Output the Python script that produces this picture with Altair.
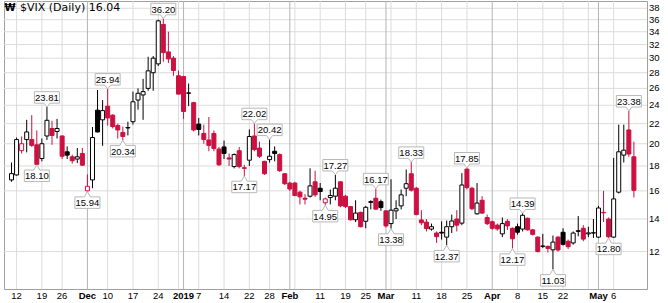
import altair as alt
import pandas as pd

# ---- data ----
dates = ["Nov 9","Nov 12","Nov 13","Nov 14","Nov 15","Nov 16","Nov 19","Nov 20","Nov 21","Nov 23",
         "Nov 26","Nov 27","Nov 28","Nov 29","Nov 30","Dec 3","Dec 4","Dec 6","Dec 7","Dec 10",
         "Dec 11","Dec 12","Dec 13","Dec 14","Dec 17","Dec 18","Dec 19","Dec 20","Dec 21","Dec 24",
         "Dec 26","Dec 27","Dec 28","Dec 31","Jan 2","Jan 3","Jan 4","Jan 7","Jan 8","Jan 9",
         "Jan 10","Jan 11","Jan 14","Jan 15","Jan 16","Jan 17","Jan 18","Jan 22","Jan 23","Jan 24",
         "Jan 25","Jan 28","Jan 29","Jan 30","Jan 31","Feb 1","Feb 4","Feb 5","Feb 6","Feb 7",
         "Feb 8","Feb 11","Feb 12","Feb 13","Feb 14","Feb 15","Feb 19","Feb 20","Feb 21","Feb 22",
         "Feb 25","Feb 26","Feb 27","Feb 28","Mar 1","Mar 4","Mar 5","Mar 6","Mar 7","Mar 8",
         "Mar 11","Mar 12","Mar 13","Mar 14","Mar 15","Mar 18","Mar 19","Mar 20","Mar 21","Mar 22",
         "Mar 25","Mar 26","Mar 27","Mar 28","Mar 29","Apr 1","Apr 2","Apr 3","Apr 4","Apr 5",
         "Apr 8","Apr 9","Apr 10","Apr 11","Apr 12","Apr 15","Apr 16","Apr 17","Apr 18","Apr 22",
         "Apr 23","Apr 24","Apr 25","Apr 26","Apr 29","Apr 30","May 1","May 2","May 3","May 6",
         "May 7","May 8","May 9","May 10"]

opens = [16.85,17.25,19.35,20.4,20.4,19.9,18.65,20.75,21.5,21.2,
         20.75,19.25,18.8,18.6,19.1,16.0,16.85,23.45,22.4,23.9,
         22.9,21.8,21.1,21.55,22.2,24.6,25.2,26.0,28.0,29.2,
         35.2,30.9,30.0,27.6,27.5,25.4,24.3,21.95,21.0,20.36,
         21.0,19.5,19.7,18.7,17.95,19.35,17.85,18.5,20.75,19.6,
         18.4,18.55,19.3,19.0,17.35,16.6,16.6,15.9,15.45,15.6,
         16.7,16.2,15.12,15.5,15.6,16.7,15.6,14.85,13.95,14.45,
         13.85,15.2,15.45,15.2,14.55,13.7,14.55,14.9,16.2,17.35,
         16.2,13.94,13.8,13.35,13.1,13.15,12.85,13.5,14.0,13.73,
         17.73,16.2,14.35,15.3,14.1,13.82,13.6,13.05,13.85,13.4,
         13.5,13.35,14.05,13.3,12.85,12.3,12.3,12.1,12.85,13.15,
         12.6,12.5,13.2,13.4,13.05,13.1,12.85,14.45,14.0,12.85,
         15.9,18.95,21.35,18.8]

highs = [18.3,20.6,20.7,22.4,22.9,21.3,20.5,23.81,22.3,22.5,
         20.8,19.75,19.0,19.6,19.6,17.3,21.65,25.8,24.6,25.94,
         23.0,22.0,21.7,22.2,25.6,26.0,27.2,30.2,30.3,36.0,
         36.20,34.0,30.3,28.3,27.6,26.6,24.4,22.6,21.9,22.7,
         21.3,19.7,20.3,19.1,19.1,19.7,18.1,21.4,22.02,20.2,
         18.45,20.42,19.75,19.1,17.4,16.7,16.7,16.0,15.75,17.8,
         17.6,16.6,15.5,16.1,17.27,16.75,15.7,14.9,15.3,14.5,
         14.9,15.3,16.17,15.35,14.6,16.9,15.3,16.1,17.7,18.33,
         16.3,14.6,14.0,13.7,13.2,13.85,13.9,14.3,14.6,17.4,
         17.85,16.3,16.6,15.6,14.3,13.9,13.7,14.1,14.0,13.45,
         13.7,14.39,14.1,13.35,12.9,13.05,12.35,12.95,12.9,13.4,
         12.7,13.2,14.2,13.6,13.5,14.0,14.9,16.0,14.1,18.7,
         21.9,21.9,23.38,20.2]

lows = [16.7,17.2,19.1,19.2,19.7,18.10,18.4,20.36,19.9,20.5,
        18.6,18.6,18.2,18.25,18.0,15.94,16.2,21.1,19.8,21.8,
        21.5,20.5,20.34,20.8,21.9,23.5,22.4,25.7,25.7,28.9,
        29.5,29.3,27.6,25.3,22.5,23.9,21.2,20.8,20.0,19.3,
        19.3,18.0,18.6,18.0,17.8,17.8,17.17,18.0,19.3,18.7,
        17.25,18.3,18.4,17.5,16.45,16.0,15.6,15.0,15.0,15.5,
        15.55,15.3,14.95,15.0,15.3,14.8,14.75,13.9,13.8,13.45,
        13.4,14.65,14.65,14.55,13.45,13.38,14.0,14.65,15.6,15.95,
        14.25,13.6,13.2,13.25,12.5,12.7,12.37,13.1,13.2,13.6,
        16.1,14.6,14.3,14.35,13.6,13.3,13.25,12.85,13.3,12.17,
        13.0,13.2,13.25,12.95,11.95,12.2,11.95,11.03,12.0,12.35,
        12.15,12.4,12.9,12.6,12.85,12.8,12.8,13.8,12.80,12.8,
        15.8,18.3,18.8,15.5]

closes = [17.36,20.40,20.0,21.15,19.85,18.14,20.0,22.35,20.8,21.5,
          18.85,18.95,18.45,18.8,18.07,16.35,20.6,21.15,23.4,22.6,
          21.7,21.35,20.7,21.6,24.4,25.4,25.6,28.25,30.0,35.8,
          30.8,29.9,28.3,25.3,23.3,25.45,21.35,21.4,20.4,19.85,
          19.55,18.1,19.1,18.6,19.0,17.95,17.8,20.7,19.45,18.85,
          17.35,18.85,19.1,17.6,16.55,16.14,15.65,15.55,15.38,16.38,
          15.7,15.95,15.4,15.65,16.2,14.9,14.85,13.95,14.4,13.5,
          14.8,15.15,14.67,14.78,13.55,14.6,14.7,15.7,16.55,16.05,
          14.3,13.75,13.38,13.5,12.88,13.1,13.5,13.87,13.6,16.45,
          16.25,14.7,15.1,14.4,13.7,13.40,13.36,13.7,13.55,12.75,
          13.15,14.25,13.3,13.02,12.0,12.32,12.18,12.55,12.09,12.42,
          12.28,13.1,13.25,12.73,13.11,13.12,14.75,14.42,12.87,15.4,
          19.25,19.4,19.05,16.04]

# annotated swing highs / lows: (candle index, value)
hi_idx = [7, 19, 30, 48, 51, 64, 72, 79, 90, 101, 122]
hi_val = [23.81, 25.94, 36.20, 22.02, 20.42, 17.27, 16.17, 18.33, 17.85, 14.39, 23.38]
lo_idx = [5, 15, 22, 46, 62, 75, 86, 99, 107, 118]
lo_val = [18.10, 15.94, 20.34, 17.17, 14.95, 13.38, 12.37, 12.17, 11.03, 12.80]

# x-axis labels (candle index, label, bold)
xt_idx = [1, 6, 10, 15, 19, 24, 29, 34, 37, 42, 47, 51, 55, 61, 66, 70, 74, 80, 85, 90, 95, 100, 105, 109, 116, 119]
xt_lab = ["12","19","26","Dec","10","17","24","2019","7","14","22","28","Feb","11","19","25","Mar","11","18","25","Apr","8","15","22","May","6"]
xt_bold = [False,False,False,True,False,False,False,True,False,False,False,False,True,False,False,False,True,False,False,False,True,False,False,False,True,False]

week_lines = [1, 6, 10, 19, 24, 29, 33, 37, 42, 47, 51, 56, 61, 66, 70, 75, 80, 85, 90, 100, 105, 109, 114, 119]
month_lines = [15, 34, 55, 74, 95, 116]

y_ticks = [12, 14, 16, 18, 20, 22, 24, 26, 28, 30, 32, 34, 36, 38]

RED = "#cc1040"
BLACK = "#000000"

n = len(dates)
line_c, fill_c = [], []
for k in range(n):
    up = True if k == 0 else closes[k] >= closes[k - 1]
    col = BLACK if up else RED
    line_c.append(col)
    fill_c.append("#ffffff" if closes[k] > opens[k] else col)

df = pd.DataFrame({"i": list(range(n)), "date": dates, "o": opens, "h": highs,
                   "l": lows, "c": closes, "lc": line_c, "fc": fill_c})

hi_df = pd.DataFrame({"i": hi_idx, "v": hi_val, "t": [f"{v:.2f}" for v in hi_val]})
lo_df = pd.DataFrame({"i": lo_idx, "v": lo_val, "t": [f"{v:.2f}" for v in lo_val]})
xt_df = pd.DataFrame({"i": xt_idx, "t": xt_lab, "b": xt_bold})
wk_df = pd.DataFrame({"i": week_lines})
mo_df = pd.DataFrame({"i": month_lines})
yt_df = pd.DataFrame({"v": y_ticks, "t": [str(v) for v in y_ticks]})

W, H = 643, 288
xs = alt.Scale(domain=[-0.498, 124.6], nice=False, zero=False)
ys = alt.Scale(type="log", domain=[10.05, 39.33], nice=False)

X = alt.X("i:Q", scale=xs, axis=None)

def Y(field):
    return alt.Y(field, scale=ys, axis=None)

hgrid = alt.Chart(yt_df).mark_rule(color="#dcdcdc", strokeWidth=1).encode(
    y=Y("v:Q"), x=alt.value(0), x2=alt.value(W))
ylab = alt.Chart(yt_df).mark_text(font="Liberation Sans", fontSize=9.5, color="#000",
                                  align="left", baseline="middle").encode(
    y=Y("v:Q"), x=alt.value(W + 2), text="t:N")

wk = alt.Chart(wk_df).mark_rule(color="#dcdcdc", strokeWidth=1).encode(
    x=X, y=alt.value(0), y2=alt.value(H))
mo = alt.Chart(mo_df).mark_rule(color="#b4b4b4", strokeWidth=1).encode(
    x=X, y=alt.value(0), y2=alt.value(H))

wick = alt.Chart(df).mark_rule(strokeWidth=1).encode(
    x=X, y=Y("l:Q"), y2="h:Q",
    color=alt.Color("lc:N", scale=None))

body = alt.Chart(df).mark_bar(width=4, strokeWidth=1).encode(
    x=X, y=Y("o:Q"), y2="c:Q",
    fill=alt.Fill("fc:N", scale=None),
    stroke=alt.Stroke("lc:N", scale=None))

HI_PATH = "M-1,-0.46H1V0.46H0.24L0,0.76L-0.24,0.46H-1Z"
LO_PATH = "M-1,0.46H1V-0.46H0.24L0,-0.88L-0.24,-0.46H-1Z"

hi_box = alt.Chart(hi_df).mark_point(shape=HI_PATH, size=625, fill="white", stroke="#b8b8b8",
                                     strokeWidth=1, opacity=1, fillOpacity=1, yOffset=-9.5).encode(
    x=X, y=Y("v:Q"))
lo_box = alt.Chart(lo_df).mark_point(shape=LO_PATH, size=625, fill="white", stroke="#b8b8b8",
                                     strokeWidth=1, opacity=1, fillOpacity=1, yOffset=11).encode(
    x=X, y=Y("v:Q"))
hi_txt = alt.Chart(hi_df).mark_text(font="Liberation Sans", fontSize=9.5, color="#000",
                                    baseline="middle", align="center", dy=-9).encode(
    x=X, y=Y("v:Q"), text="t:N")
lo_txt = alt.Chart(lo_df).mark_text(font="Liberation Sans", fontSize=9.5, color="#000",
                                    baseline="middle", align="center", dy=11.5).encode(
    x=X, y=Y("v:Q"), text="t:N")

xlab_n = alt.Chart(xt_df).transform_filter("!datum.b").mark_text(
    font="Liberation Sans", fontSize=9.5, color="#000", baseline="middle", align="center").encode(
    x=X, y=alt.value(H + 6.5), text="t:N")
xlab_b = alt.Chart(xt_df).transform_filter("datum.b").mark_text(
    font="Liberation Sans", fontSize=9.5, fontWeight="bold", color="#000",
    baseline="middle", align="center").encode(
    x=X, y=alt.value(H + 6.5), text="t:N")

title_df = pd.DataFrame({"t": ["$VIX (Daily) 16.04"]})
title = alt.Chart(title_df).mark_text(font="DejaVu Sans", fontSize=11, color="#000",
                                      align="left", baseline="middle").encode(
    x=alt.value(16), y=alt.value(6.5), text="t:N")
icon_df = pd.DataFrame({"t": ["₩"]})
icon = alt.Chart(icon_df).mark_text(font="DejaVu Sans", fontSize=10, fontWeight="bold",
                                    color="#000", align="center", baseline="middle").encode(
    x=alt.value(6), y=alt.value(6.5), text="t:N")

chart = alt.layer(hgrid, wk, mo, wick, body, hi_box, lo_box, hi_txt, lo_txt,
                  xlab_n, xlab_b, ylab, title, icon).properties(
    width=W, height=H,
    padding={"left": 4, "top": 1, "right": 21, "bottom": 14},
    autosize=alt.AutoSizeParams(type="none"),
    background="white",
).configure_view(stroke="#a0a0a0", strokeWidth=1)

chart.save("out.html", embed_options={"renderer": "svg", "actions": False})
